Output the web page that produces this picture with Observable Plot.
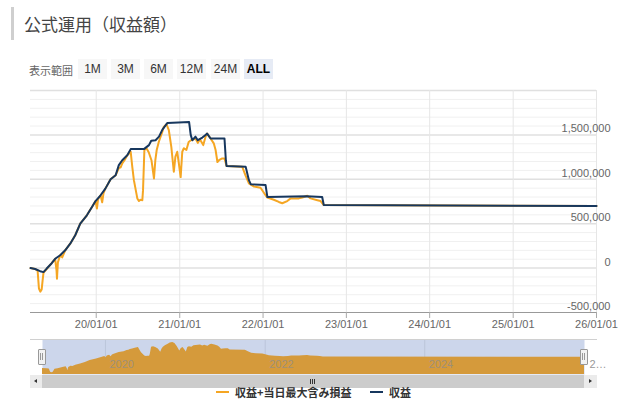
<!DOCTYPE html>
<html><head><meta charset="utf-8">
<script src="https://cdn.jsdelivr.net/npm/d3@7"></script>
<script src="https://cdn.jsdelivr.net/npm/@observablehq/plot@0.6"></script>
<style>
body{margin:0;background:#fff;font-family:"Noto Sans CJK JP","Noto Sans",sans-serif;}
#wrap{position:relative;width:628px;height:415px;overflow:hidden;background:#fff;}
.abs{position:absolute;}
.btn{position:absolute;top:59px;width:29px;height:20px;line-height:20px;text-align:center;font-family:"Liberation Sans",Arial,sans-serif;font-size:12px;color:#333;background:#f7f7f7;}
</style></head><body><div id="wrap">
<div class="abs" style="left:11px;top:7px;width:3px;height:33px;background:#cfcfcf"></div>
<div class="abs" style="left:24px;top:10px;font-size:17px;line-height:28px;color:#444">公式運用（収益額）</div>
<div class="abs" style="left:29px;top:62px;font-size:11px;line-height:16px;color:#666" id="rangeLabel"></div>
<div id="buttons"></div>
<div class="abs" id="main" style="left:0;top:80px"></div>
<div class="abs" id="nav" style="left:0;top:335px"></div>
<div class="abs" style="left:30px;top:339px;width:567px;height:1px;background:#d0d0d0"></div>
<!-- handles -->
<div class="abs" style="left:38px;top:349px;width:6px;height:14px;background:#f2f2f2;border:1px solid #999;border-radius:1px"></div>
<div class="abs" style="left:40px;top:353px;width:1px;height:7px;background:#999"></div>
<div class="abs" style="left:42px;top:353px;width:1px;height:7px;background:#999"></div>
<div class="abs" style="left:580px;top:349px;width:6px;height:14px;background:#f2f2f2;border:1px solid #999;border-radius:1px"></div>
<div class="abs" style="left:582px;top:353px;width:1px;height:7px;background:#999"></div>
<div class="abs" style="left:584px;top:353px;width:1px;height:7px;background:#999"></div>
<!-- scrollbar -->
<div class="abs" style="left:30px;top:375px;width:567px;height:13px;background:#f2f2f2;border-top:1px solid #e6e6e6;box-sizing:border-box"></div>
<div class="abs" style="left:30px;top:375px;width:12px;height:13px;background:#ebebeb"></div>
<div class="abs" style="left:34px;top:379px;width:0;height:0;border-top:2.5px solid transparent;border-bottom:2.5px solid transparent;border-right:3px solid #333"></div>
<div class="abs" style="left:42px;top:375px;width:542px;height:13px;background:#cccccc"></div>
<div class="abs" style="left:584px;top:375px;width:13px;height:13px;background:#ebebeb"></div>
<div class="abs" style="left:589px;top:379px;width:0;height:0;border-top:2.5px solid transparent;border-bottom:2.5px solid transparent;border-left:3px solid #333"></div>
<div class="abs" style="left:310px;top:379px;width:1px;height:5px;background:#333"></div>
<div class="abs" style="left:312px;top:379px;width:1px;height:5px;background:#333"></div>
<div class="abs" style="left:314px;top:379px;width:1px;height:5px;background:#333"></div>
<!-- legend -->
<div class="abs" style="left:216px;top:391px;width:13px;height:2px;background:#f5a623"></div>
<div class="abs" id="leg0" style="left:235px;top:384px;font-size:11px;line-height:16px;font-weight:bold;color:#333"></div>
<div class="abs" style="left:370px;top:391px;width:13px;height:2px;background:#17375e"></div>
<div class="abs" id="leg1" style="left:389px;top:384px;font-size:11px;line-height:16px;font-weight:bold;color:#333"></div>
</div>
<script>
// ---- data ----
const seriesNames = ["収益+当日最大含み損益", "収益"];
const rangeLabel = "表示範囲";
const rangeButtons = ["1M", "3M", "6M", "12M", "24M", "ALL"];

const profitDates = ["2019-03-19","2019-04-08","2019-04-30","2019-05-15","2019-05-29","2019-06-20","2019-07-05","2019-07-27","2019-08-18","2019-09-09","2019-10-01","2019-10-23","2019-11-21","2019-12-14","2019-12-29","2020-01-20","2020-02-10","2020-03-04","2020-03-26","2020-04-09","2020-04-24","2020-05-16","2020-05-31","2020-07-28","2020-08-19","2020-08-29","2020-09-17","2020-10-02","2020-10-17","2020-11-08","2021-02-11","2021-02-18","2021-02-25","2021-03-11","2021-03-21","2021-04-10","2021-04-24","2021-05-01","2021-05-16","2021-07-16","2021-07-22","2021-07-25","2021-10-17","2021-10-31","2021-11-08","2022-01-12","2022-01-20","2022-07-11","2022-09-17","2022-09-24","2026-01-01"];
const profitValues = [0,-10000,-35000,-45000,-5000,55000,105000,145000,200000,275000,370000,500000,595000,690000,755000,820000,895000,1000000,1045000,1160000,1215000,1270000,1340000,1340000,1385000,1435000,1440000,1480000,1560000,1635000,1645000,1500000,1440000,1480000,1440000,1470000,1500000,1515000,1460000,1460000,1215000,1150000,1140000,990000,945000,935000,800000,810000,800000,710000,700000];

const totalDates = ["2019-03-19","2019-04-08","2019-04-19","2019-04-25","2019-05-01","2019-05-07","2019-05-11","2019-05-15","2019-05-29","2019-06-20","2019-07-05","2019-07-11","2019-07-13","2019-07-17","2019-07-27","2019-08-05","2019-08-18","2019-09-09","2019-10-01","2019-10-23","2019-11-21","2019-12-14","2019-12-29","2020-01-04","2020-01-09","2020-01-20","2020-01-27","2020-02-02","2020-02-10","2020-03-04","2020-03-26","2020-04-09","2020-04-17","2020-04-24","2020-05-04","2020-05-16","2020-05-31","2020-06-07","2020-06-14","2020-06-29","2020-07-06","2020-07-13","2020-07-21","2020-07-24","2020-07-30","2020-08-08","2020-08-18","2020-08-30","2020-09-10","2020-09-16","2020-09-22","2020-10-01","2020-10-16","2020-10-23","2020-11-04","2020-11-14","2020-11-25","2020-12-06","2020-12-13","2020-12-21","2020-12-28","2021-01-05","2021-01-12","2021-01-19","2021-01-30","2021-02-09","2021-02-19","2021-03-11","2021-03-21","2021-03-30","2021-04-14","2021-04-24","2021-05-01","2021-05-16","2021-05-30","2021-06-07","2021-06-15","2021-06-22","2021-07-06","2021-07-16","2021-07-25","2021-10-02","2021-10-16","2021-10-31","2021-11-21","2021-12-21","2022-01-12","2022-01-20","2022-02-17","2022-03-11","2022-03-26","2022-04-17","2022-05-02","2022-06-07","2022-06-22","2022-07-14","2022-07-28","2022-08-27","2022-09-10","2022-09-24","2026-01-01"];
const totalValues = [0,-10000,-25000,-230000,-265000,-240000,-140000,-50000,-10000,55000,105000,-25000,-120000,65000,145000,120000,200000,275000,370000,500000,595000,690000,755000,670000,775000,820000,740000,845000,895000,1000000,1045000,1125000,1135000,1180000,1215000,1270000,1310000,1140000,990000,785000,755000,770000,765000,875000,1330000,1350000,1305000,1215000,1010000,1215000,1330000,1420000,1530000,1590000,1620000,1555000,1365000,1085000,1255000,1310000,1180000,1025000,1310000,1350000,1330000,1420000,1440000,1460000,1410000,1450000,1385000,1480000,1515000,1460000,1405000,1330000,1195000,1215000,1235000,1235000,1150000,1140000,1045000,955000,920000,905000,820000,795000,770000,745000,730000,755000,785000,785000,795000,815000,785000,765000,755000,710000,700000];

const xTickDates = ["2020-01-01","2021-01-01","2022-01-01","2023-01-01","2024-01-01","2025-01-01","2026-01-01"];
const xTickLabels = ["20/01/01","21/01/01","22/01/01","23/01/01","24/01/01","25/01/01","26/01/01"];
const yTicks = [-500000, 0, 500000, 1000000, 1500000];
const yTickLabels = ["-500,000", "0", "500,000", "1,000,000", "1,500,000"];
const navTickDates = ["2020-01-01", "2022-01-01", "2024-01-01"];
const navTickLabels = ["2020", "2022", "2024"];
const navEndLabel = "2…";

// ---- build ----
const parse = d3.utcParse("%Y-%m-%d");
const profit = profitDates.map((d, i) => ({date: parse(d), value: profitValues[i]}));
const total = totalDates.map((d, i) => ({date: parse(d), value: totalValues[i]}));
const xTicks = xTickDates.map(parse);
const labelOf = new Map(xTicks.map((d, i) => [+d, xTickLabels[i]]));
const navTicks = navTickDates.map(parse);
const x0 = parse("2019-03-19"), x1 = parse("2026-01-01");
const yMin = -500000, yMax = 2000000;
const yMajor = d3.range(0, yMax + 1, 500000);
const yMinor = d3.range(yMin + 100000, yMax, 100000).filter(v => v % 500000 !== 0);

document.getElementById("rangeLabel").textContent = rangeLabel;
document.getElementById("leg0").textContent = seriesNames[0];
document.getElementById("leg1").textContent = seriesNames[1];
const btnLeft = [78, 111, 144, 177, 211, 244];
const bc = document.getElementById("buttons");
rangeButtons.forEach((b, i) => {
  const el = document.createElement("div");
  el.className = "btn";
  el.style.left = btnLeft[i] + "px";
  el.textContent = b;
  if (b === "ALL") { el.style.background = "#e6ebf5"; el.style.fontWeight = "bold"; el.style.color = "#000"; }
  bc.appendChild(el);
});

const font = '"Liberation Sans", Arial, sans-serif';

const main = Plot.plot({
  width: 628, height: 257,
  marginLeft: 30, marginRight: 32, marginTop: 10, marginBottom: 25,
  x: {type: "utc", domain: [x0, x1]},
  y: {domain: [yMin, yMax], axis: null},
  style: {fontFamily: font, fontSize: "11px", color: "#666", background: "transparent"},
  marks: [
    Plot.ruleY(yMinor, {stroke: "#f0f0f0"}),
    Plot.ruleY(yMajor, {stroke: "#e0e0e0", strokeWidth: 1.5}),
    Plot.ruleX(xTicks, {stroke: "#e6e6e6"}),
    Plot.line(total, {x: "date", y: "value", stroke: "#f5a623", strokeWidth: 2}),
    Plot.line(profit, {x: "date", y: "value", stroke: "#17375e", strokeWidth: 2}),
    Plot.ruleY([yMin], {stroke: "#999"}),
    Plot.axisX({ticks: xTicks, tickFormat: d => labelOf.get(+d), tickSize: 6, tickPadding: 2, stroke: "#aaa", fill: "#666", label: null}),
    Plot.text(yTicks, {y: d => d, text: (d, i) => yTickLabels[i], frameAnchor: "right", textAnchor: "end", dx: 14, dy: -6, fill: "#666"})
  ]
});
document.getElementById("main").appendChild(main);

const navMin = -375000, navMax = 1810000;
const nav = Plot.plot({
  width: 628, height: 60,
  marginLeft: 42, marginRight: 44, marginTop: 4, marginBottom: 21,
  x: {type: "utc", domain: [x0, x1], axis: null},
  y: {domain: [navMin, navMax], axis: null},
  style: {fontFamily: font, fontSize: "11px", background: "transparent"},
  marks: [
    Plot.frame({fill: "#ccd6eb", stroke: null}),
    Plot.ruleX(navTicks, {stroke: "#bcc6da"}),
    Plot.areaY(total, {x: "date", y1: () => navMin, y2: "value", fill: "#d59a3b"}),
    Plot.text(navTicks, {x: d => d, text: (d, i) => navTickLabels[i], frameAnchor: "bottom", textAnchor: "start", dx: 4, dy: -7, fill: "#8c8c8c", fillOpacity: 0.75}),
    Plot.text([x1], {x: d => d, text: () => navEndLabel, frameAnchor: "bottom", textAnchor: "start", dx: 5, dy: -7, fill: "#999"})
  ]
});
document.getElementById("nav").appendChild(nav);
</script>
</body></html>
